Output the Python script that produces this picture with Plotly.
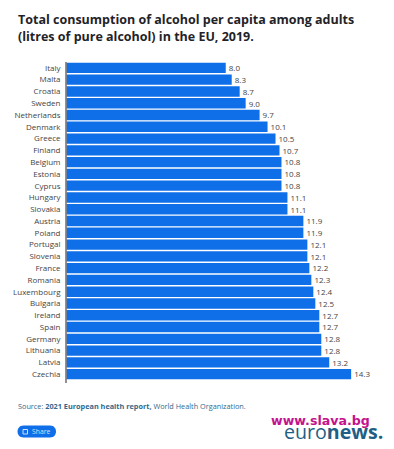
import plotly.graph_objects as go

countries = ["Italy","Malta","Croatia","Sweden","Netherlands","Denmark","Greece","Finland","Belgium",
             "Estonia","Cyprus","Hungary","Slovakia","Austria","Poland","Portugal","Slovenia","France",
             "Romania","Luxembourg","Bulgaria","Ireland","Spain","Germany","Lithuania","Latvia","Czechia"]
values = [8.0,8.3,8.7,9.0,9.7,10.1,10.5,10.7,10.8,10.8,10.8,11.1,11.1,11.9,11.9,12.1,12.1,12.2,
          12.3,12.4,12.5,12.7,12.7,12.8,12.8,13.2,14.3]

W, H = 394, 449
L, R, T, B = 66.5, 385, 62, 383
def px(x): return x / W
def py(y): return 1 - y / H

fig = go.Figure(go.Bar(
    x=values, y=countries, orientation="h",
    marker=dict(color="#0f6fe8", line=dict(width=0)),
    width=0.88,
    text=[f"{v:.1f}" for v in values], textposition="outside", cliponaxis=False,
    textfont=dict(family="Open Sans", size=8.5, color="#444444"),
    hoverinfo="skip",
))

def note(x, y, text, size, color, anchor="left", family="Open Sans", **kw):
    fig.add_annotation(x=px(x), y=py(y), xref="paper", yref="paper", text=text, showarrow=False,
                       xanchor=anchor, yanchor="middle", align="left",
                       font=dict(family=family, size=size, color=color), **kw)

note(16, 20, "<b>Total consumption of alcohol per capita among adults</b>", 12.5, "#1f2328")
note(16, 37, "<b>(litres of pure alcohol) in the EU, 2019.</b>", 12.5, "#1f2328")
note(16, 406, "Source: <b>2021 European health report,</b> World Health Organization.", 7.3, "#33698c")
note(30, 431.5, "Share", 6.8, "#cfe2fb")
note(282, 431, "euro<b>news.</b>", 19.6, "#1f5f86", family="Open Sans")
note(269, 420, "<b>www.slava.bg</b>", 12.6, "#c4128c", family="DejaVu Sans")

# rounded share button
r = 6
x0, x1, y0, y1 = 17.5, 56, 425.5, 437.5
fig.add_shape(type="path", xref="paper", yref="paper", layer="below",
              path=(f"M {px(x0+r)} {py(y0)} L {px(x1-r)} {py(y0)} "
                    f"C {px(x1+2)} {py(y0)} {px(x1+2)} {py(y1)} {px(x1-r)} {py(y1)} "
                    f"L {px(x0+r)} {py(y1)} "
                    f"C {px(x0-2)} {py(y1)} {px(x0-2)} {py(y0)} {px(x0+r)} {py(y0)} Z"),
              fillcolor="#0f6fe8", line=dict(width=0))
fig.add_shape(type="rect", xref="paper", yref="paper", x0=px(23), x1=px(27.5), y0=py(434), y1=py(429.5),
              fillcolor="rgba(0,0,0,0)", line=dict(width=1, color="#cfe2fb"))

fig.update_layout(
    width=W, height=H, autosize=False,
    margin=dict(l=0, r=0, t=0, b=0),
    paper_bgcolor="white", plot_bgcolor="white", showlegend=False,
    xaxis=dict(domain=[px(L), px(R)], range=[0, 16], showgrid=False, zeroline=False,
               showticklabels=False, ticks=""),
    yaxis=dict(domain=[py(B), py(T)], autorange=False, range=[26.75, -0.5], anchor="x",
               type="category", categoryorder="array", categoryarray=countries,
               showgrid=False, zeroline=False, ticks="", showline=False,
               tickfont=dict(family="Open Sans", size=8, color="#444444"), ticklabelstandoff=5),
)
fig.add_shape(type="line", xref="paper", yref="paper", x0=px(L-0.5), x1=px(L-0.5), y0=py(T), y1=py(B),
              line=dict(color="#222222", width=1))
fig.write_html("out.html", config=dict(displayModeBar=False),
               post_script="document.body.style.margin='0';document.documentElement.style.overflow='hidden';")
